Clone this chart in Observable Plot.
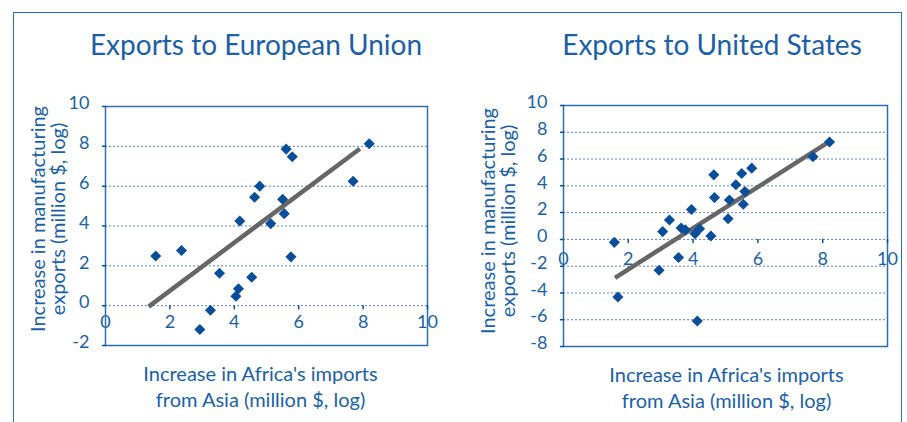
<!DOCTYPE html>
<html>
<head>
<meta charset="utf-8">
<script src="https://cdn.jsdelivr.net/npm/d3@7"></script>
<script src="https://cdn.jsdelivr.net/npm/@observablehq/plot@0.6"></script>
<style>
  html, body { margin: 0; padding: 0; background: #fff; }
  #root { position: relative; width: 907px; height: 422px; overflow: hidden; background: #fff; font-family: Lato, "Open Sans", sans-serif; }
  .frame { position: absolute; left: 13px; top: 12px; width: 889px; height: 430px; border: 1.5px solid #2f6db3; border-bottom: none; box-sizing: border-box; }
  .title { position: absolute; top: 30px; font-size: 28px; line-height: 28px; color: #1d5fa6; white-space: nowrap; transform: translateX(-50%); }
  .panel { position: absolute; top: 0; }
</style>
</head>
<body>
<div id="root">
  <div class="frame"></div>
  <div class="title" id="t1" style="left:256px"></div>
  <div class="title" id="t2" style="left:712px"></div>
  <div class="panel" id="p1" style="left:0px"></div>
  <div class="panel" id="p2" style="left:453px"></div>
</div>
<script>
// ---- data ----
const titles = ["Exports to European Union", "Exports to United States"];
const yTitle = "Increase in manufacturing\nexports (million $, log)";
const xTitle = "Increase in Africa's imports\nfrom Asia (million $, log)";

const xTicks = [0, 2, 4, 6, 8, 10];
const euYTicks = [-2, 0, 2, 4, 6, 8, 10];
const usYTicks = [-8, -6, -4, -2, 0, 2, 4, 6, 8, 10];
const xAxisAt = 0;

const euImports = [1.56, 2.36, 2.93, 3.26, 3.54, 4.05, 4.13, 4.17, 4.54, 4.63, 4.79, 5.13, 5.50, 5.55, 5.61, 5.80, 5.76, 7.69, 8.19];
const euExports = [2.49, 2.77, -1.2, -0.23, 1.63, 0.47, 0.85, 4.25, 1.43, 5.44, 6.0, 4.12, 5.34, 4.62, 7.86, 7.48, 2.45, 6.25, 8.13];
const euFitX = [1.34, 7.9];
const euFitY = [-0.05, 7.88];

const usImports = [1.57, 1.68, 2.95, 3.06, 3.27, 3.55, 3.63, 3.76, 3.95, 4.06, 4.20, 4.13, 4.55, 4.64, 4.66, 5.08, 5.12, 5.32, 5.50, 5.55, 5.60, 5.81, 7.70, 8.21];
const usExports = [-0.22, -4.3, -2.3, 0.58, 1.45, -1.35, 0.85, 0.72, 2.23, 0.42, 0.79, -6.1, 0.25, 4.82, 3.12, 1.54, 2.94, 4.08, 4.92, 2.63, 3.57, 5.32, 6.18, 7.27];
const usFitX = [1.59, 8.18];
const usFitY = [-2.87, 7.27];

// ---- styles ----
const textColor = "#1d5fa6";
const pointColor = "#0a4e9b";
const axisColor = "#2f6db3";
const gridColor = "#5d80c8";
const fitColor = "#666666";

const tickShape = { draw(ctx, l) { ctx.moveTo(0, 0); ctx.lineTo(0, -l); } };

function panel(cfg) {
  const pts = cfg.xs.map((x, i) => ({ x, y: cfg.ys[i] }));
  const fit = cfg.fx.map((x, i) => ({ x, y: cfg.fy[i] }));
  const inner = cfg.yTicks.filter(d => d !== cfg.yDomain[0] && d !== cfg.yDomain[1]);
  return Plot.plot({
    width: cfg.width, height: 422,
    marginLeft: cfg.ml, marginRight: cfg.mr, marginTop: cfg.mt, marginBottom: cfg.mb,
    style: { fontFamily: "Lato, 'Open Sans', sans-serif", background: "transparent", overflow: "visible" },
    x: { domain: [0, 10], axis: null },
    y: { domain: cfg.yDomain, axis: null },
    marks: [
      Plot.ruleY(inner, { y: d => d, stroke: gridColor, strokeDasharray: "2,2", strokeWidth: 1 }),
      Plot.frame({ stroke: axisColor, strokeWidth: 1.5 }),
      Plot.vector(cfg.yTicks, { y: d => d, frameAnchor: "left", length: 3, rotate: -90, anchor: "start", shape: tickShape, stroke: pointColor, strokeWidth: 1.5 }),
      Plot.text(cfg.yTicks, { y: d => d, frameAnchor: "left", text: d => String(d), textAnchor: "end", dx: -16, dy: -3, fill: textColor, fontSize: 18 }),
      Plot.vector(xTicks.slice(1), { x: d => d, y: () => xAxisAt, length: 3, rotate: 180, anchor: "start", shape: tickShape, stroke: pointColor, strokeWidth: 1.5 }),
      Plot.text(xTicks, { x: d => d, y: () => xAxisAt, text: d => String(d), dy: cfg.xLabelDy, fill: textColor, fontSize: 18 }),
      Plot.line(fit, { x: "x", y: "y", stroke: fitColor, strokeWidth: 4.5, strokeLinecap: "butt" }),
      Plot.dot(pts, { x: "x", y: "y", symbol: "diamond2", r: 5, fill: pointColor }),
      Plot.text([yTitle], { text: d => d, frameAnchor: "left", textAnchor: "middle", lineAnchor: "middle", rotate: -90, dx: cfg.ytDx, dy: cfg.ytDy, lineHeight: 1.0, fill: textColor, fontSize: 20 }),
      Plot.text([xTitle], { text: d => d, frameAnchor: "bottom", textAnchor: "middle", lineAnchor: "middle", dx: cfg.xtDx, dy: cfg.xtDy, lineHeight: 1.3, fill: textColor, fontSize: 20 })
    ]
  });
}

document.getElementById("t1").textContent = titles[0];
document.getElementById("t2").textContent = titles[1];

document.getElementById("p1").appendChild(panel({
  width: 453, ml: 105, mr: 26, mt: 106, mb: 77,
  yDomain: [-2, 10], yTicks: euYTicks,
  xs: euImports, ys: euExports, fx: euFitX, fy: euFitY,
  xLabelDy: 17, ytDx: -57, ytDy: -7, xtDx: -6, xtDy: 40
}));
document.getElementById("p2").appendChild(panel({
  width: 454, ml: 110, mr: 20, mt: 105, mb: 76,
  yDomain: [-8, 10], yTicks: usYTicks,
  xs: usImports, ys: usExports, fx: usFitX, fy: usFitY,
  xLabelDy: 20, ytDx: -65, ytDy: -5, xtDx: 1, xtDy: 40
}));
</script>
</body>
</html>
